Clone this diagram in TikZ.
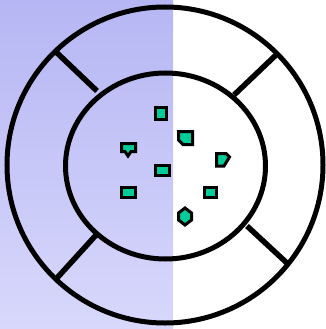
\documentclass[tikz,border=0pt]{standalone}
\definecolor{lavA}{RGB}{182,182,244}
\definecolor{lavB}{RGB}{200,200,252}
\definecolor{lavC}{RGB}{216,216,252}
\definecolor{teal}{RGB}{0,204,153}
\begin{document}
\begin{tikzpicture}[x=1pt,y=-1pt,
  ring/.style={line width=5pt,draw=black},
  spoke/.style={line width=5.5pt,draw=black},
  marker/.style={draw=black,line width=3pt,fill=teal,line join=miter}]
\useasboundingbox (0,0) rectangle (326,329);
\fill[white] (0,0) rectangle (326,329);
\shade[top color=lavA, middle color=lavB, bottom color=lavC] (0,0) rectangle (173,329);
% rings
\draw[ring] (165,165) circle[radius=158];
\draw[ring] (165.5,166) ellipse[x radius=100, y radius=93];
% spokes
\coordinate (ulo) at (55,51);  \coordinate (uli) at (97,91);
\coordinate (uro) at (277,54); \coordinate (uri) at (234,95);
\coordinate (llo) at (57,278); \coordinate (lli) at (97,234);
\coordinate (lro) at (288,264); \coordinate (lri) at (247,226);
\draw[spoke] (ulo) -- (uli);
\draw[spoke] (uro) -- (uri);
\draw[spoke] (llo) -- (lli);
\draw[spoke] (lro) -- (lri);
% markers
\draw[marker] (155.5,107.5) rectangle (166.5,119.5);
\draw[marker] (178.5,131.5) -- (192.5,131.5) -- (192.5,144.5) -- (183,144.5) -- (178.5,140) -- cycle;
\draw[marker] (121.5,143.5) -- (135.5,143.5) -- (135.5,151.5) -- (131,151.5) -- (128,156) -- (125,151.5) -- (121.5,151.5) -- cycle;
\draw[marker] (155.5,165.5) rectangle (169.5,175.5);
\draw[marker] (216.5,153.5) -- (226,153.5) -- (229.5,157) -- (224,166) -- (216.5,166) -- cycle;
\draw[marker] (204.5,187.5) rectangle (216.5,197.5);
\draw[marker] (121.5,187.5) rectangle (135.5,197.5);
\draw[marker] (185,208) -- (191.5,213) -- (191.5,220) -- (185,225) -- (178.5,220) -- (178.5,213) -- cycle;
\end{tikzpicture}
\end{document}
